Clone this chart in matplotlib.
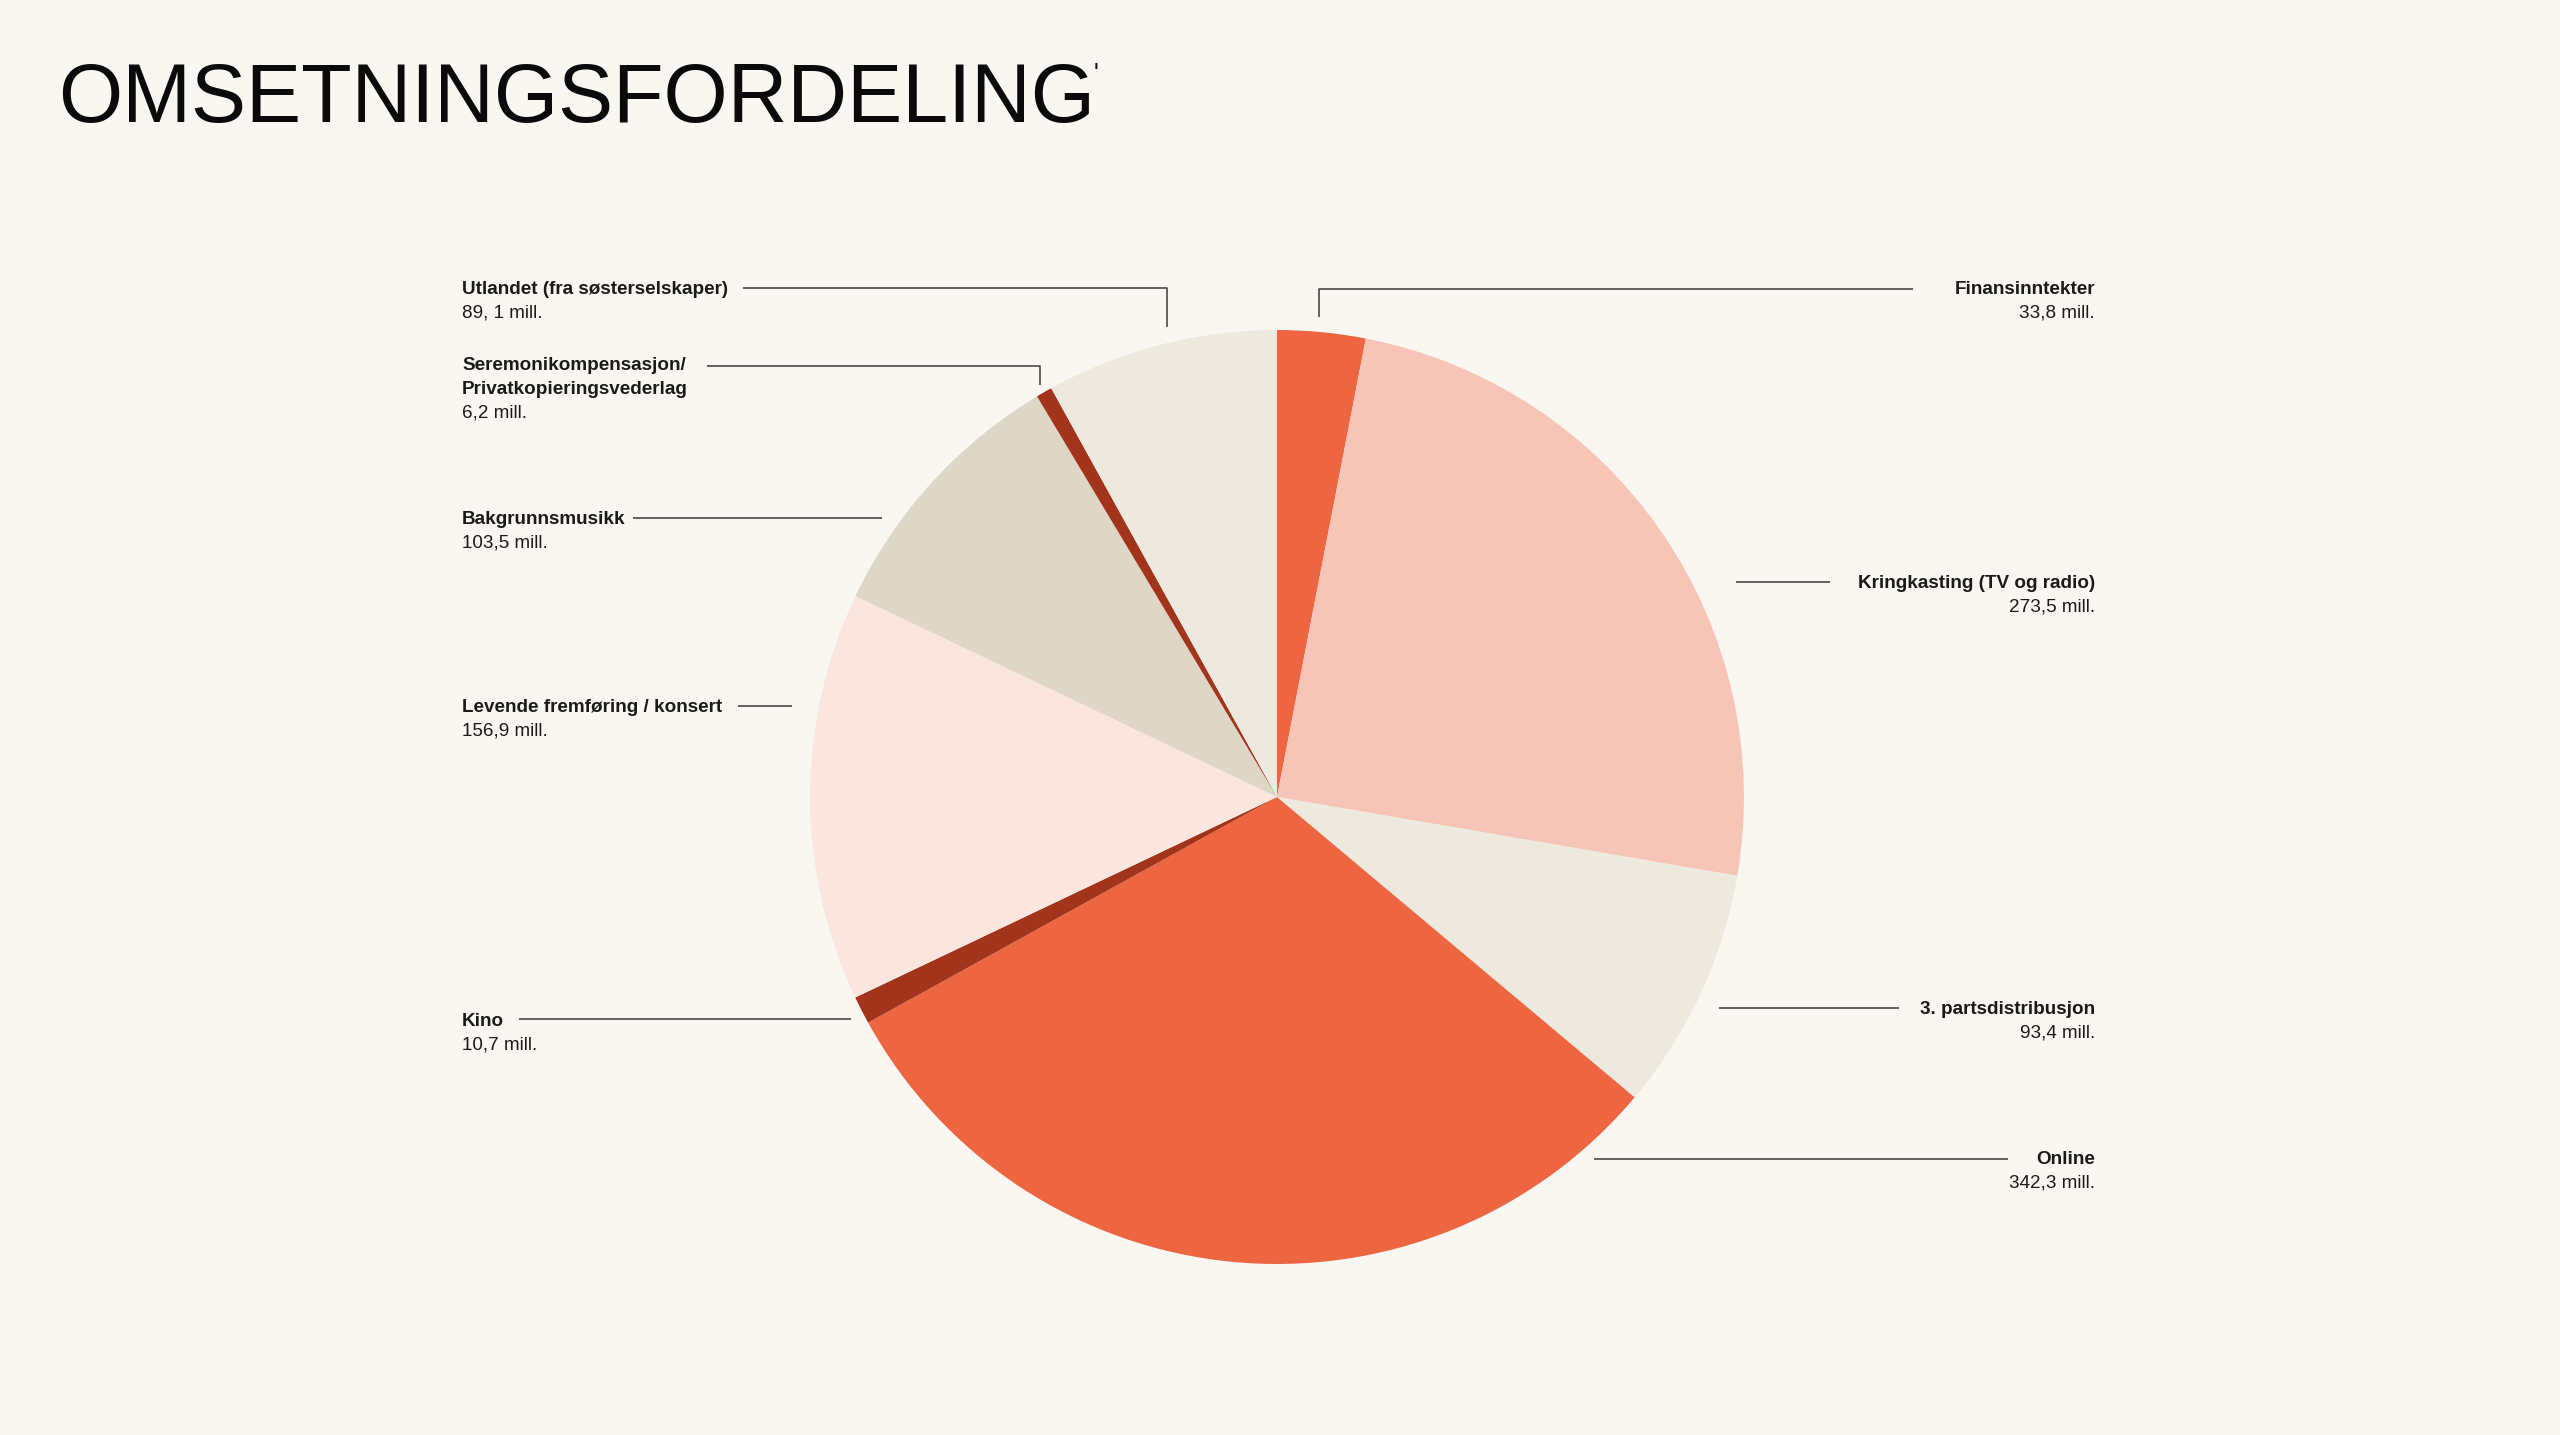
import matplotlib

matplotlib.use("Agg")
import matplotlib.pyplot as plt

W, H = 2560, 1435
BG = "#FAF7F2"
INK = "#1A1A1A"

TITLE = "OMSETNINGSFORDELING"

# slices, clockwise from 12 o'clock
NAMES = [
    "Finansinntekter",
    "Kringkasting (TV og radio)",
    "3. partsdistribusjon",
    "Online",
    "Kino",
    "Levende fremføring / konsert",
    "Bakgrunnsmusikk",
    "Seremonikompensasjon/\nPrivatkopieringsvederlag",
    "Utlandet (fra søsterselskaper)",
]
VALUES = [33.8, 273.5, 93.4, 342.3, 10.7, 156.9, 103.5, 6.2, 89.1]
VALUE_TEXT = ["33,8 mill.", "273,5 mill.", "93,4 mill.", "342,3 mill.", "10,7 mill.",
              "156,9 mill.", "103,5 mill.", "6,2 mill.", "89, 1 mill."]
COLORS = ["#EE6641", "#F6C5B8", "#EEE9DF", "#EE6641", "#A3341C",
          "#FAE5DF", "#DED7C7", "#A3341C", "#EEE9DF"]

# label layout in pixel coords (y from top): side, first line centre, leader path
LAYOUT = [
    ("R", 289, [(1913, 289), (1319, 289), (1319, 317)]),
    ("R", 583, [(1736, 582), (1830, 582)]),
    ("R", 1009, [(1719, 1008), (1899, 1008)]),
    ("R", 1160, [(1594, 1159), (2008, 1159)]),
    ("L", 1021, [(519, 1019), (851, 1019)]),
    ("L", 707, [(738, 706), (792, 706)]),
    ("L", 520, [(633, 518), (882, 518)]),
    ("L", 366, [(707, 366), (1040, 366), (1040, 385)]),
    ("L", 289, [(743, 288), (1167, 288), (1167, 327)]),
]
LEFT_X, RIGHT_X = 462, 2095
LINE_H = 23.5
FONT = "Liberation Sans"


def Y(y):
    return H - y


fig = plt.figure(figsize=(W / 100, H / 100), dpi=100, facecolor=BG)
ax = fig.add_axes([0, 0, 1, 1])
ax.set_facecolor(BG)

ax.pie(VALUES, colors=COLORS, startangle=90, counterclock=False,
       center=(1277, Y(797)), radius=467, wedgeprops=dict(linewidth=0))
ax.set_xlim(0, W)
ax.set_ylim(0, H)
ax.set_aspect("equal")
ax.axis("off")

for name, val, (side, y0, path) in zip(NAMES, VALUE_TEXT, LAYOUT):
    x = LEFT_X if side == "L" else RIGHT_X
    ha = "left" if side == "L" else "right"
    lines = name.split("\n")
    for i, line in enumerate(lines):
        ax.text(x, Y(y0 + i * LINE_H), line, ha=ha, va="center", fontsize=13.6,
                family=FONT, fontweight="bold", color=INK)
    ax.text(x, Y(y0 + len(lines) * LINE_H), val, ha=ha, va="center", fontsize=13.6,
            family=FONT, color=INK)
    xs = [p[0] for p in path]
    ys = [Y(p[1]) for p in path]
    ax.plot(xs, ys, color="#3A3A3A", linewidth=1.1, solid_capstyle="butt")

ax.text(58, Y(122), TITLE, ha="left", va="baseline", fontsize=59.5, family=FONT, color="#0A0A0A")
ax.text(1094, Y(74), "'", ha="left", va="center", fontsize=18, family=FONT, color="#0A0A0A")

fig.savefig("out.png", dpi=100, facecolor=BG)
